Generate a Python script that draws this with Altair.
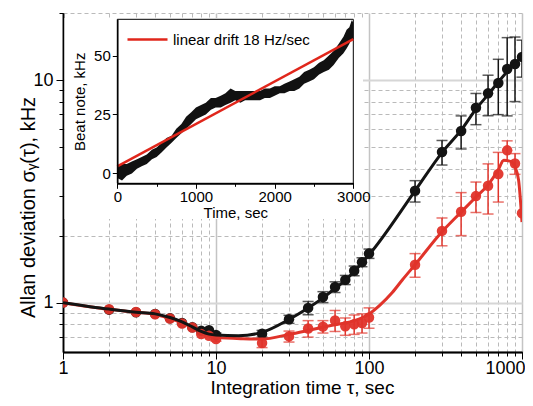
import altair as alt
import pandas as pd

# ---------------- main panel data (Allan deviation, kHz) ----------------
TAU = [1, 2, 3, 4, 5, 6, 7, 8, 9, 10, 20, 30, 40, 50, 60, 70, 80, 90, 100,
       200, 300, 400, 500, 600, 700, 800, 900, 1000]
BLACK = [1.00, 0.93, 0.905, 0.89, 0.85, 0.81, 0.775, 0.747, 0.752, 0.715, 0.725,
         0.842, 0.947, 1.06, 1.175, 1.265, 1.39, 1.52, 1.66,
         3.18, 4.75, 5.90, 7.50, 8.71, 9.69, 11.2, 11.8, 12.7]
BLACK_ERR = [0, 0, 0, 0, 0, 0, 0, 0, 0, 0.015, 0.025, 0.035, 0.065, 0.06, 0.065,
             0.06, 0.07, 0.07, 0.08, 0.35, 0.6, 1.0, 1.2, 1.8, 2.7, 4.3, 3.8, 2.4]
RED = [1.00, 0.933, 0.908, 0.887, 0.848, 0.806, 0.773, 0.722, 0.709, 0.686, 0.658,
       0.705, 0.765, 0.78, 0.832, 0.783, 0.80, 0.81, 0.857,
       1.48, 2.10, 2.56, 3.01, 3.35, 3.78, 4.83, 4.22, 2.52]
RED_ERR = [0, 0, 0, 0, 0, 0, 0, 0, 0, 0.015, 0.03, 0.04, 0.065, 0.05, 0.09, 0.07,
           0.08, 0.08, 0.09, 0.18, 0.3, 0.56, 0.47, 0.85, 0.95, 0.5, 0.45, 0]

BLACK_FIT_TAU = [1, 2, 3, 4, 5, 6, 7, 8, 9, 10, 14, 20, 30, 40, 50, 60, 70, 80, 90,
                 100, 200, 300, 400, 500, 600, 700, 800, 900, 1000]
BLACK_FIT = [1.0, 0.935, 0.905, 0.89, 0.857, 0.82, 0.778, 0.742, 0.722, 0.715, 0.71,
             0.735, 0.84, 0.945, 1.05, 1.16, 1.26, 1.38, 1.51, 1.64, 3.18, 4.72,
             5.95, 7.4, 8.6, 9.8, 10.9, 11.8, 12.8]
RED_FIT_TAU = [1, 2, 3, 4, 5, 6, 7, 8, 9, 10, 15, 20, 30, 40, 50, 60, 70, 80, 90,
               100, 117, 142, 166, 200, 300, 400, 500, 600, 700, 760, 850, 900, 950,
               1000]
RED_FIT = [1.0, 0.933, 0.905, 0.885, 0.85, 0.81, 0.775, 0.735, 0.71, 0.698, 0.688,
           0.686, 0.72, 0.75, 0.775, 0.795, 0.81, 0.83, 0.855, 0.89, 0.97, 1.11,
           1.27, 1.48, 2.08, 2.55, 2.98, 3.38, 3.95, 4.36, 4.3, 4.07, 3.55, 2.3]

X_MINOR = [2, 3, 4, 5, 6, 7, 8, 9, 20, 30, 40, 50, 60, 70, 80, 90,
           200, 300, 400, 500, 600, 700, 800, 900]
X_MAJOR = [1, 10, 100]
X_LAST = [1000]
Y_MINOR = [0.7, 0.8, 0.9, 2, 3, 4, 5, 6, 7, 8, 9, 20]
Y_MAJOR = [1, 10]
X_DOMAIN = [1, 1000]
Y_DOMAIN = [0.6, 20]

# ---------------- inset data (beat note, kHz) ----------------
TIME = [0, 60, 120, 185, 250, 310, 375, 440, 500, 565, 625, 690, 750, 815, 875, 940,
        1000, 1065, 1125, 1190, 1250, 1315, 1375, 1440, 1500, 1565, 1625, 1690, 1750,
        1815, 1875, 1940, 2000, 2065, 2125, 2190, 2250, 2315, 2375, 2440, 2500, 2565,
        2625, 2690, 2750, 2815, 2875, 2915, 2950, 2980, 3000]
BEAT_LO = [-2, -3, -1, 0, 2, 3, 4, 6, 7, 9, 11, 13, 15, 17, 19, 21, 23, 24, 25, 27,
           28, 28, 29, 30, 31, 30, 31, 31, 31, 31, 32, 32, 33, 34, 34, 35, 35, 36, 38,
           39, 40, 42, 43, 44, 46, 49, 51, 53, 55, 57, 57]
BEAT_HI = [3, 4, 4, 5, 6, 7, 8, 10, 11, 13, 15, 16, 19, 21, 24, 26, 28, 29, 30, 32,
           32, 33, 34, 36, 35, 35, 35, 35, 35, 35, 36, 36, 37, 37, 38, 39, 40, 41, 43,
           44, 45, 47, 48, 50, 52, 55, 58, 61, 62, 65, 64]
DRIFT_T = [0, 3000]
DRIFT_KHZ = [3, 57]
DRIFT_LABEL = "linear drift 18 Hz/sec"
INSET_T_DOMAIN = [0, 3000]
INSET_Y_DOMAIN = [-4.2, 65.4]
INSET_T_MAJOR = [0, 1000, 2000, 3000]
INSET_T_MINOR = [500, 1500, 2500]
INSET_Y_TICKS = [0, 25, 50]

BLACK_C = "#141414"
RED_C = "#e0332a"
FONT = "Liberation Sans"

W, H = 459, 339

main_df = pd.DataFrame({"tau": TAU, "black": BLACK, "black_err": BLACK_ERR,
                        "red": RED, "red_err": RED_ERR})
main_df["b_lo"] = main_df["black"] - main_df["black_err"]
main_df["b_hi"] = main_df["black"] + main_df["black_err"]
main_df["r_lo"] = main_df["red"] - main_df["red_err"]
main_df["r_hi"] = main_df["red"] + main_df["red_err"]
bfit = pd.DataFrame({"tau": BLACK_FIT_TAU, "v": BLACK_FIT})
rfit = pd.DataFrame({"tau": RED_FIT_TAU, "v": RED_FIT})


def xs():
    return alt.Scale(type="log", domain=X_DOMAIN, range=[0, W], nice=False)


def ys():
    return alt.Scale(type="log", domain=Y_DOMAIN, range=[H, 0], nice=False)


def X(field, axis=None):
    return alt.X(field, type="quantitative", scale=xs(), axis=axis)


def Y(field, axis=None):
    return alt.Y(field, type="quantitative", scale=ys(), axis=axis)


common = dict(labelFont=FONT, titleFont=FONT, labelColor="black", titleColor="black",
              domainColor="black", domainWidth=1.5, tickColor="black", tickWidth=1,
              labelFlush=False, labelOverlap=False, titleFontWeight="normal")

# axis-holder layers (invisible points) : minor grids, then major grids + labels
x_minor_axis = alt.Axis(orient="bottom", values=X_MINOR, labels=False, title=None,
                        tickSize=4, grid=True, gridDash=[4, 3], gridColor="#bababa",
                        gridWidth=1, **common)
y_minor_axis = alt.Axis(orient="left", values=Y_MINOR, labels=False, title=None,
                        tickSize=4, grid=True, gridDash=[4, 3], gridColor="#bababa",
                        gridWidth=1, **common)
x_major_axis = alt.Axis(orient="bottom", values=X_MAJOR, format="d",
                        title="Integration time τ, sec", labelFontSize=18,
                        titleFontSize=19, tickSize=7, labelPadding=0,
                        titleX=239, titleY=35, titleBaseline="middle",
                        grid=True, gridColor="#c4c4c4", gridWidth=1.5, **common)
x_last_axis = alt.Axis(orient="bottom", values=X_LAST, format="d", title=None,
                       labelFontSize=18, tickSize=7, labelPadding=0,
                       labelAlign="right", labelOffset=3,
                       grid=True, gridColor="#c4c4c4", gridWidth=1.5, **common)
y_major_axis = alt.Axis(orient="left", values=Y_MAJOR, format="d",
                        title="Allan deviation  σᵧ(τ), kHz", labelFontSize=18,
                        titleFontSize=20, tickSize=7, labelPadding=3,
                        titleX=-35, titleY=194, titleBaseline="middle",
                        grid=True, gridColor="#d6d6d6", gridWidth=2, **common)

minor_holder = alt.Chart(main_df).mark_point(opacity=0).encode(
    x=X("tau", x_minor_axis), y=Y("black", y_minor_axis))
major_holder = alt.Chart(main_df).mark_point(opacity=0).encode(
    x=X("tau", x_major_axis), y=Y("black", y_major_axis))
last_holder = alt.Chart(main_df).mark_point(opacity=0).encode(
    x=X("tau", x_last_axis), y=Y("black"))

bline = alt.Chart(bfit).mark_line(color=BLACK_C, strokeWidth=3, interpolate="monotone",
                                  clip=True).encode(x=X("tau"), y=Y("v"))
rline = alt.Chart(rfit).mark_line(color=RED_C, strokeWidth=3, interpolate="monotone",
                                  clip=True).encode(x=X("tau"), y=Y("v"))


def errs(lo, hi, color):
    base = alt.Chart(main_df).transform_filter("datum.%s < datum.%s" % (lo, hi))
    rule = base.mark_rule(color=color, strokeWidth=1.5, clip=True).encode(
        x=X("tau"), y=Y(lo), y2=hi)
    t1 = base.mark_tick(color=color, orient="horizontal", size=11, thickness=1.5,
                        clip=True).encode(x=X("tau"), y=Y(lo))
    t2 = base.mark_tick(color=color, orient="horizontal", size=11, thickness=1.5,
                        clip=True).encode(x=X("tau"), y=Y(hi))
    return [rule, t1, t2]


rpts = alt.Chart(main_df).mark_circle(color=RED_C, size=110, opacity=0.95,
                                      clip=True).encode(x=X("tau"), y=Y("red"))
bpts = alt.Chart(main_df).mark_circle(color=BLACK_C, size=110, opacity=1,
                                      clip=True).encode(x=X("tau"), y=Y("black"))

# white backing behind the inset (covers main grid)
backing = alt.Chart(pd.DataFrame({"k": [0]})).mark_rect(color="white").encode(
    x=alt.value(1.5), x2=alt.value(300), y=alt.value(5), y2=alt.value(206))

# ---------------- inset ----------------
IX0, IX1 = 54.3, 290.3
IY0, IY1 = 170.3, 6.3


def its():
    return alt.Scale(domain=INSET_T_DOMAIN, range=[IX0, IX1], nice=False, zero=False)


def iys():
    return alt.Scale(domain=INSET_Y_DOMAIN, range=[IY0, IY1], nice=False, zero=False)


icommon = dict(labelFont=FONT, titleFont=FONT, labelColor="black", titleColor="black",
               domainColor="black", domainWidth=1.5, tickColor="black", grid=False,
               zindex=2, labelFlush=False, labelOverlap=False, titleFontWeight="normal")
ix_axis = alt.Axis(orient="bottom", offset=-(H - IY0), values=INSET_T_MAJOR, format="d",
                   title="Time, sec", labelFontSize=15, titleFontSize=15, tickSize=5,
                   labelPadding=1, titlePadding=1, **icommon)
ix_minor_axis = alt.Axis(orient="bottom", offset=-(H - IY0), values=INSET_T_MINOR,
                         labels=False, title=None, tickSize=3, **icommon)
iy_axis = alt.Axis(orient="left", offset=-IX0, values=INSET_Y_TICKS, format="d",
                   title="Beat note, kHz", labelFontSize=15, titleFontSize=15,
                   tickSize=5, labelPadding=2, titlePadding=6, **icommon)

frame_df = pd.DataFrame({"x0": [INSET_T_DOMAIN[0]], "x1": [INSET_T_DOMAIN[1]],
                         "y0": [INSET_Y_DOMAIN[0]], "y1": [INSET_Y_DOMAIN[1]]})
frame = alt.Chart(frame_df).mark_rect(fill="white", stroke="black", strokeWidth=1).encode(
    x=alt.X("x0:Q", scale=its(), axis=ix_axis), x2="x1",
    y=alt.Y("y0:Q", scale=iys(), axis=iy_axis), y2="y1")
frame_minor = alt.Chart(frame_df).mark_point(opacity=0).encode(
    x=alt.X("x0:Q", scale=its(), axis=ix_minor_axis),
    y=alt.Y("y0:Q", scale=iys(), axis=None))

beat_df = pd.DataFrame({"t": TIME, "lo": BEAT_LO, "hi": BEAT_HI})
trace = alt.Chart(beat_df).mark_area(color="#111111", opacity=1, clip=True).encode(
    x=alt.X("t:Q", scale=its(), axis=None),
    y=alt.Y("lo:Q", scale=iys(), axis=None), y2="hi")

drift_df = pd.DataFrame({"t": DRIFT_T, "v": DRIFT_KHZ, "lab": [DRIFT_LABEL] * len(DRIFT_T)})
drift = alt.Chart(drift_df).mark_line(strokeWidth=2.5).encode(
    x=alt.X("t:Q", scale=its(), axis=None),
    y=alt.Y("v:Q", scale=iys(), axis=None),
    color=alt.Color("lab:N", scale=alt.Scale(range=["#e0261b"]),
                    legend=alt.Legend(orient="none", legendX=63, legendY=5, title=None,
                                      symbolType="stroke", symbolSize=1600,
                                      symbolStrokeWidth=2.5, labelFontSize=15,
                                      labelFont=FONT, labelColor="black",
                                      labelOffset=4, padding=0)))

layers = [minor_holder, major_holder, last_holder, *errs("b_lo", "b_hi", BLACK_C),
          *errs("r_lo", "r_hi", RED_C), bpts, rpts, rline, bline, backing,
          frame, frame_minor, trace, drift]

chart = alt.layer(*layers).resolve_scale(
    x="independent", y="independent", color="independent"
).properties(
    width=W, height=H, autosize="none",
    padding={"left": 55, "top": 5, "right": 3, "bottom": 46},
).configure_view(strokeWidth=0)

chart.save("out.html", embed_options={"renderer": "svg", "actions": False})
